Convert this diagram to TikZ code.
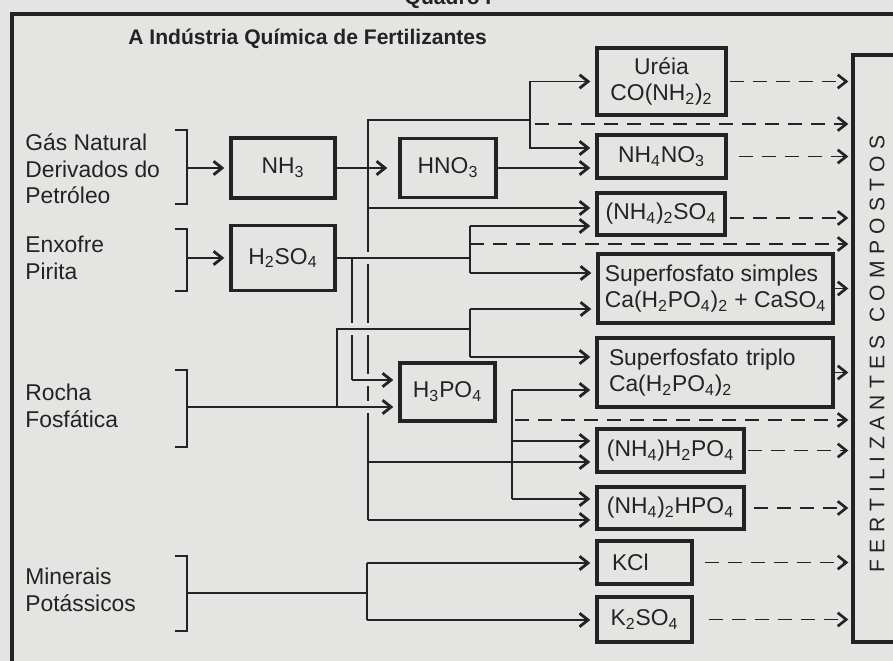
\documentclass[tikz,border=0pt]{standalone}
\usepackage{fontspec}
\setmainfont{Liberation Sans}
\usetikzlibrary{arrows.meta}
\definecolor{paper}{RGB}{228,228,226}
\definecolor{ink}{RGB}{35,35,35}
\newcommand{\ix}[1]{\textsubscript{#1}}
\begin{document}
\begin{tikzpicture}[x=0.2mm,y=-0.2mm,
  every node/.style={font=\fontsize{13}{15}\selectfont,text=ink},
  box/.style={draw=ink,line width=1.9pt,fill=paper,inner sep=0pt,align=center},
  ln/.style={draw=ink,line width=1.1pt},
  arr/.style={ln,-{Straight Barb[length=1.7mm,width=2.7mm,line width=1.6pt]},shorten >=1mm},
  dsh/.style={draw=ink,line width=1.1pt,dash pattern=on 2.8mm off 1.8mm,-{Straight Barb[length=1.7mm,width=2.7mm,line width=1.5pt]},shorten >=0.6mm},
  brk/.style={draw=ink,line width=1.1pt}]
\useasboundingbox (0,0) rectangle (893,661);
\fill[paper] (0,0) rectangle (893,661);
% Frame and titles
\draw[ink,line width=1.8pt] (12,680) -- (12,14) -- (910,14);
\node[anchor=base,inner sep=0pt,font=\fontsize{12}{14}\selectfont\bfseries] (quadro) at (448,5) {Quadro I};
\node[anchor=base west,inner sep=0pt,font=\fontsize{12}{14}\selectfont\bfseries] (title) at (128,45) {A Indústria Química de Fertilizantes};
% Raw materials
\node[anchor=west,inner sep=0pt,align=left] (gas) at (25,169) {Gás Natural\\Derivados do\\Petróleo};
\node[anchor=west,inner sep=0pt,align=left] (enx) at (25,258) {Enxofre\\Pirita};
\node[anchor=west,inner sep=0pt,align=left] (rocha) at (25,406) {Rocha\\Fosfática};
\node[anchor=west,inner sep=0pt,align=left] (miner) at (25,590) {Minerais\\Potássicos};
\draw[brk] (175,130) -- (187,130) -- (187,204) -- (175,204);
\draw[brk] (175,229) -- (187,229) -- (187,291) -- (175,291);
\draw[brk] (175,370) -- (187,370) -- (187,447) -- (175,447);
\draw[brk] (175,556) -- (187,556) -- (187,631) -- (175,631);
\coordinate (b1) at (187,168);
\coordinate (b2) at (187,258);
\coordinate (b3) at (187,407);
\coordinate (b4) at (187,593);
% Intermediates
\node[box,minimum width=20.8mm,minimum height=12mm] (nh3) at (283,168) {NH\ix{3}};
\node[box,minimum width=19.2mm,minimum height=11.8mm] (hno3) at (448,168) {HNO\ix{3}};
\node[box,minimum width=20.8mm,minimum height=13mm] (h2so4) at (283,258) {H\ix{2}SO\ix{4}};
\node[box,minimum width=19mm,minimum height=11.6mm] (h3po4) at (447.5,392) {H\ix{3}PO\ix{4}};
% Products
\node[box,minimum width=25.8mm,minimum height=13.4mm] (ureia) at (661.5,81.5) {Uréia\\CO(NH\ix{2})\ix{2}};
\node[box,minimum width=25.8mm,minimum height=8.6mm] (nitrato) at (661.5,156.5) {NH\ix{4}NO\ix{3}};
\node[box,minimum width=25.6mm,minimum height=8.4mm] (sulfato) at (661,214) {(NH\ix{4})\ix{2}SO\ix{4}};
\node[box,minimum width=47mm,minimum height=13.8mm,align=left] (simples) at (715.5,288.5) {Superfosfato simples\\Ca(H\ix{2}PO\ix{4})\ix{2} + CaSO\ix{4}};
\node[box,minimum width=47.2mm,minimum height=13.8mm,inner xsep=2.4mm,text width=42.4mm,align=left] (triplo) at (715,372.5) {Superfosfato triplo\\Ca(H\ix{2}PO\ix{4})\ix{2}};
\node[box,minimum width=29.4mm,minimum height=8.6mm] (map) at (670.5,450.5) {(NH\ix{4})H\ix{2}PO\ix{4}};
\node[box,minimum width=29.4mm,minimum height=8.4mm] (dap) at (670.5,508) {(NH\ix{4})\ix{2}HPO\ix{4}};
\node[box,minimum width=19mm,minimum height=8.6mm,inner xsep=3mm,text width=13mm,align=left] (kcl) at (644.5,562.5) {KCl};
\node[box,minimum width=19mm,minimum height=9mm] (ksulf) at (644.5,619.5) {K\ix{2}SO\ix{4}};
\node[box,minimum width=10.8mm,minimum height=117.4mm] (fert) at (880,348.5) {};
\node[rotate=90,inner sep=0pt,font=\fontsize{12}{14}\selectfont\addfontfeatures{LetterSpace=30}] (fertlabel) at (877,354) {FERTILIZANTES COMPOSTOS};
% Junction points
\coordinate (tN) at (368,120);
\coordinate (tS) at (368,208);
\coordinate (tM) at (368,462);
\coordinate (tNb) at (368,520);
\coordinate (jU) at (530,120);
\coordinate (dU) at (530,124);
\coordinate (sA) at (470,226);
\coordinate (dS) at (470,244);
\coordinate (sB) at (470,273);
\coordinate (sC) at (352,258);
\coordinate (sD) at (352,380);
\coordinate (rA) at (337,407);
\coordinate (rB) at (337,329);
\coordinate (rC) at (470,309);
\coordinate (rD) at (470,357);
\coordinate (pA) at (512,390);
\coordinate (dP) at (512,420);
\coordinate (pM) at (512,441);
\coordinate (pB) at (512,499);
\coordinate (kA) at (367,593);
\coordinate (kB) at (367,563);
\coordinate (kC) at (367,620);
% Trunks, broken where other lines pass
\draw[ln] (tNb) -- (tN) -- (jU);
\draw[ln] (sC) -- (sD);
\foreach \y in {258,329,380,407} \fill[paper] (364,\y-6) rectangle (372,\y+6);
\fill[paper] (348,323) rectangle (356,335);
% NH3 lines
\draw[arr] (b1) -- (nh3.west);
\draw[arr,shorten >=2.2mm] (nh3.east) -- (hno3.west);
\draw[arr] (jU) |- (ureia.west);
\draw[arr] (jU) |- ([yshift=1.7mm]nitrato.west);
\draw[dsh] ([xshift=1mm]dU) -- (dU -| fert.west);
\draw[arr] (hno3.east) -- (hno3.east -| nitrato.west);
\draw[arr] (tS) -- (tS -| sulfato.west);
\draw[arr] (tM) -- (tM -| map.west);
\draw[arr] (tNb) -- (tNb -| dap.west);
% H2SO4 lines
\draw[arr] (b2) -- (h2so4.west);
\draw[ln] (h2so4.east) -- (sC) -- (sC -| sA);
\draw[ln] (sA) -- (sB);
\draw[arr] (sA) -- (sA -| sulfato.west);
\draw[arr] (sB) -- (sB -| simples.west);
\draw[dsh] (dS) -- (dS -| fert.west);
\draw[arr] (sD) -- (sD -| h3po4.west);
% Rocha fosfatica lines
\draw[arr] (b3) -- (b3 -| h3po4.west);
\draw[ln] (rA) -- (rB) -- (rB -| rC);
\draw[ln] (rC) -- (rD);
\draw[arr] (rC) -- (rC -| simples.west);
\draw[arr] (rD) -- (rD -| triplo.west);
% H3PO4 lines
\draw[ln] (pA) -- (pB);
\draw[arr] (pA) -- (pA -| triplo.west);
\draw[dsh] ([xshift=0.6mm]dP) -- (dP -| fert.west);
\draw[arr] (pM) -- (pM -| map.west);
\draw[arr] (pB) -- (pB -| dap.west);
% Potassium lines
\draw[ln] (b4) -- (kA);
\draw[ln] (kB) -- (kC);
\draw[arr] (kB) -- (kB -| kcl.west);
\draw[arr] (kC) -- (kC -| ksulf.west);
% Products to compound fertilizers
\draw[dsh] ([xshift=0.4mm]ureia.east) -- (ureia.east -| fert.west);
\draw[dsh] ([xshift=2.2mm]nitrato.east) -- (nitrato.east -| fert.west);
\draw[dsh] ([xshift=0.6mm,yshift=-0.8mm]sulfato.east) -- ([yshift=-0.8mm]sulfato.east -| fert.west);
\draw[dsh] (simples.east) -- (simples.east -| fert.west);
\draw[dsh] (triplo.east) -- (triplo.east -| fert.west);
\draw[dsh] ([xshift=0.4mm]map.east) -- (map.east -| fert.west);
\draw[dsh] ([xshift=1.6mm]dap.east) -- (dap.east -| fert.west);
\draw[dsh] ([xshift=2.2mm]kcl.east) -- (kcl.east -| fert.west);
\draw[dsh] ([xshift=3mm]ksulf.east) -- (ksulf.east -| fert.west);
\end{tikzpicture}
\end{document}
